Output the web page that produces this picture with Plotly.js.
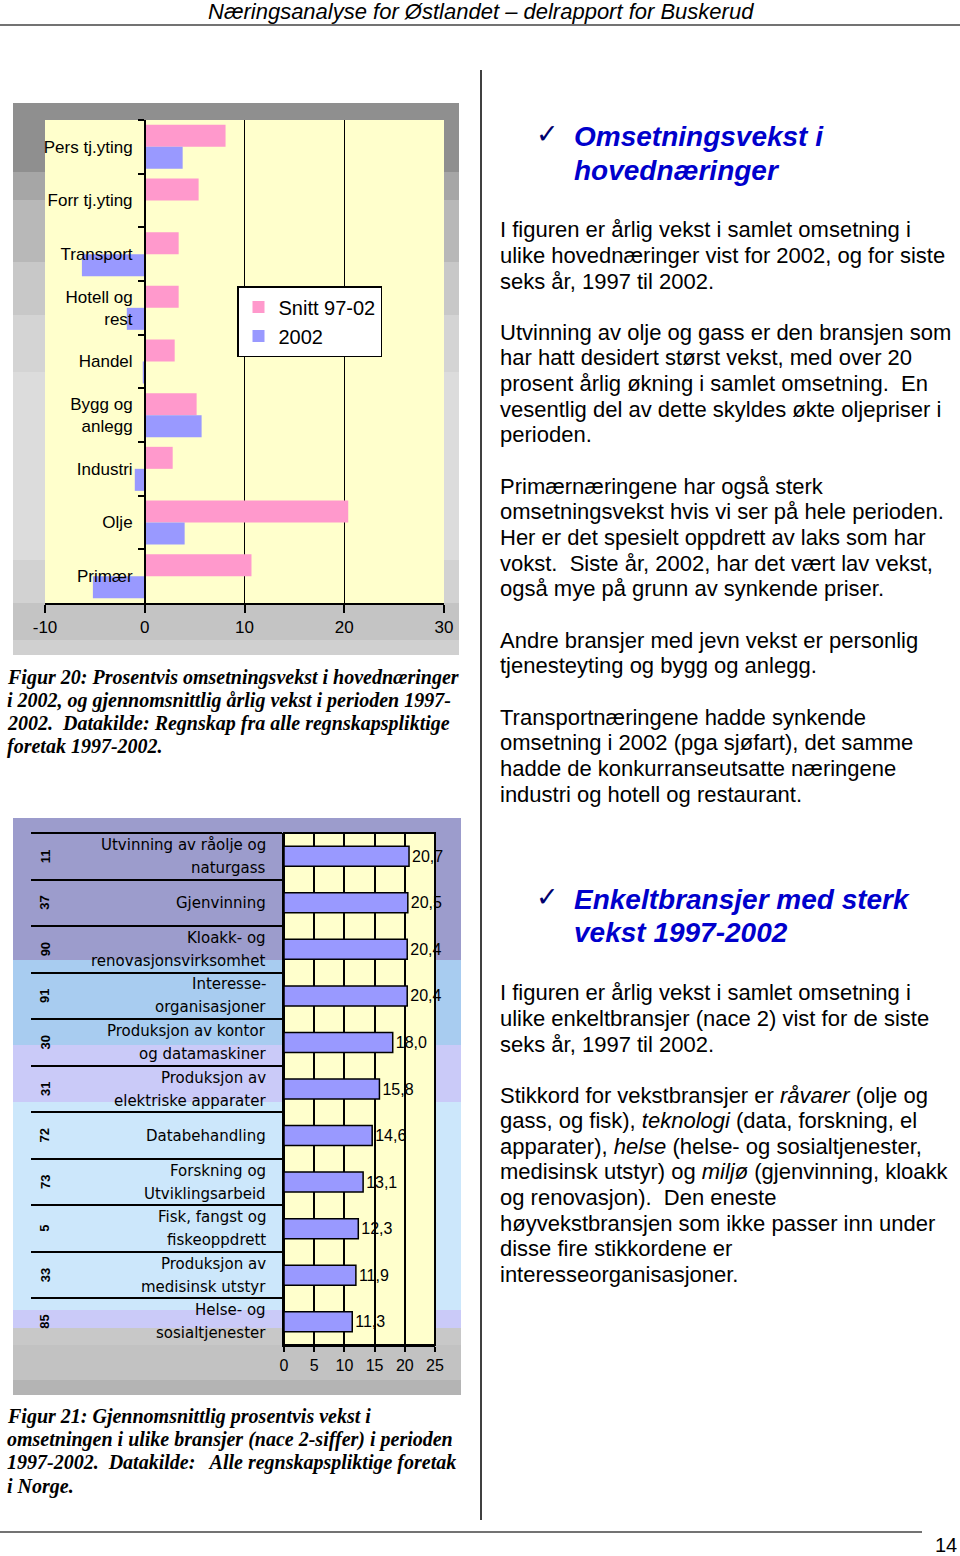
<!DOCTYPE html>
<html>
<head>
<meta charset="utf-8">
<script src="https://cdn.plot.ly/plotly-3.0.1.min.js"></script>
<style>
html,body{margin:0;padding:0;background:#fff;}
#chart{width:960px;height:1556px;}
</style>
</head>
<body>
<div id="chart"></div>
<script>
// ---------- DATA ----------
// Figur 20
const mainCategories = ['Pers tj.yting','Forr tj.yting','Transport','Hotell og<br>rest','Handel','Bygg og<br>anlegg','Industri','Olje','Primær'];
const snitt9702 = [8.1, 5.4, 3.4, 3.4, 3.0, 5.2, 2.8, 20.4, 10.7];
const vekst2002 = [3.8, 0.0, -6.3, -1.8, -0.2, 5.7, -1.0, 4.0, -5.2];
const seriesNames = ['Snitt 97-02', '2002'];
const mainTicks = [-10, 0, 10, 20, 30];
const mainTickText = ['-10', '0', '10', '20', '30'];

// Figur 21
const naceCodes = ['11','37','90','91','30','31','72','73','5','33','85'];
const branchNames = ['Utvinning av råolje og<br>naturgass','Gjenvinning','Kloakk- og<br>renovasjonsvirksomhet','Interesse-<br>organisasjoner','Produksjon av kontor<br>og datamaskiner','Produksjon av<br>elektriske apparater','Databehandling','Forskning og<br>Utviklingsarbeid','Fisk, fangst og<br>fiskeoppdrett','Produksjon av<br>medisinsk utstyr','Helse- og<br>sosialtjenester'];
const branchGrowth = [20.7, 20.5, 20.4, 20.4, 18.0, 15.8, 14.6, 13.1, 12.3, 11.9, 11.3];
const branchTicks = [0, 5, 10, 15, 20, 25];

// ---------- TEXT ----------
const headerText = 'Næringsanalyse for Østlandet – delrapport for Buskerud';
const heading1 = ['Omsetningsvekst i', 'hovednæringer'];
const heading2 = ['Enkeltbransjer med sterk', 'vekst 1997-2002'];
const bodyBlocks1 = [
  ['I figuren er årlig vekst i samlet omsetning i','ulike hovednæringer vist for 2002, og for siste','seks år, 1997 til 2002.'],
  ['Utvinning av olje og gass er den bransjen som','har hatt desidert størst vekst, med over 20','prosent årlig økning i samlet omsetning.  En','vesentlig del av dette skyldes økte oljepriser i','perioden.'],
  ['Primærnæringene har også sterk','omsetningsvekst hvis vi ser på hele perioden.','Her er det spesielt oppdrett av laks som har','vokst.  Siste år, 2002, har det vært lav vekst,','også mye på grunn av synkende priser.'],
  ['Andre bransjer med jevn vekst er personlig','tjenesteyting og bygg og anlegg.'],
  ['Transportnæringene hadde synkende','omsetning i 2002 (pga sjøfart), det samme','hadde de konkurranseutsatte næringene','industri og hotell og restaurant.']
];
const bodyBlocks2 = [
  ['I figuren er årlig vekst i samlet omsetning i','ulike enkeltbransjer (nace 2) vist for de siste','seks år, 1997 til 2002.'],
  ['Stikkord for vekstbransjer er <i>råvarer</i> (olje og','gass, og fisk), <i>teknologi</i> (data, forskning, el','apparater), <i>helse</i> (helse- og sosialtjenester,','medisinsk utstyr) og <i>miljø</i> (gjenvinning, kloakk','og renovasjon).  Den eneste','høyvekstbransjen som ikke passer inn under','disse fire stikkordene er','interesseorganisasjoner.']
];
const caption20 = ['Figur 20: Prosentvis omsetningsvekst i hovednæringer','i 2002, og gjennomsnittlig årlig vekst i perioden 1997-','2002.  Datakilde: Regnskap fra alle regnskapspliktige','foretak 1997-2002.'];
const caption21 = ['Figur 21: Gjennomsnittlig prosentvis vekst i','omsetningen i ulike bransjer (nace 2-siffer) i perioden','1997-2002.  Datakilde:   Alle regnskapspliktige foretak','i Norge.'];
const pageNumber = '14';

// ---------- HELPERS ----------
const W = 960, H = 1556;
const px = x => x / W;
const py = y => 1 - y / H;
const SANS = 'Liberation Sans, Arial, sans-serif';
const SERIF = 'Liberation Serif, Times New Roman, serif';

const annotations = [];
function txt(x, y, text, size, opts) {
  opts = opts || {};
  annotations.push({
    xref: 'paper', yref: 'paper', x: px(x), y: py(y),
    xanchor: opts.xanchor || 'left', yanchor: 'middle',
    text: text, showarrow: false,
    font: {family: opts.family || SANS, size: size, color: opts.color || '#000'}
  });
}
function lines(x, y0, step, arr, size, opts) {
  arr.forEach((t, i) => txt(x, y0 + i * step, t, size, opts));
}

// header / footer
txt(481, 12, '<i>' + headerText + '</i>', 22, {xanchor: 'center'});
txt(933, 1545, pageNumber, 20);

// headings
const headColor = '#0000cc';
txt(534, 133, '✓', 27, {color: '#00006e', family: 'DejaVu Sans, sans-serif'});
lines(572, 137, 33, heading1.map(t => '<b><i>' + t + '</i></b>'), 28, {color: headColor});
txt(534, 896, '✓', 27, {color: '#00006e', family: 'DejaVu Sans, sans-serif'});
lines(572, 899, 33, heading2.map(t => '<b><i>' + t + '</i></b>'), 28, {color: headColor});

// body text
const block1Starts = [230, 332, 486, 640, 717];
bodyBlocks1.forEach((b, i) => lines(498, block1Starts[i], 25.7, b, 22));
const block2Starts = [993, 1095];
bodyBlocks2.forEach((b, i) => lines(498, block2Starts[i], 25.6, b, 22));

// captions
lines(5, 677, 23.2, caption20.map(t => '<b><i>' + t + '</i></b>'), 20, {family: SERIF});
lines(5, 1416, 23.4, caption21.map(t => '<b><i>' + t + '</i></b>'), 20, {family: SERIF});

// bottom chart category labels & codes (placed on the category axis y2)
branchNames.forEach((name, i) => {
  const parts = name.split('<br>');
  parts.forEach((p, j) => {
    const shift = parts.length === 2 ? (j === 0 ? 11.5 : -11.5) : 0;
    annotations.push({
      xref: 'paper', yref: 'y2', x: px(268), y: name, yshift: shift,
      xanchor: 'right', yanchor: 'middle', text: p, showarrow: false,
      font: {family: 'DejaVu Sans, sans-serif', size: 15, color: '#000'}
    });
  });
  annotations.push({
    xref: 'paper', yref: 'y2', x: px(45), y: name,
    xanchor: 'center', yanchor: 'middle', text: '<b>' + naceCodes[i] + '</b>',
    textangle: -90, showarrow: false,
    font: {family: SANS, size: 13, color: '#000'}
  });
});

// ---------- SHAPES (frames / backgrounds) ----------
const shapes = [];
function rect(x0, y0, x1, y1, fill, line) {
  shapes.push({type: 'rect', xref: 'paper', yref: 'paper', layer: 'below',
    x0: px(x0), x1: px(x1), y0: py(y1), y1: py(y0),
    fillcolor: fill, line: line || {width: 0}});
}
function hline(x0, x1, y, color, w) {
  shapes.push({type: 'line', xref: 'paper', yref: 'paper', x0: px(x0), x1: px(x1), y0: py(y), y1: py(y), line: {color: color, width: w}});
}
function vline(x, y0, y1, color, w) {
  shapes.push({type: 'line', xref: 'paper', yref: 'paper', x0: px(x), x1: px(x), y0: py(y0), y1: py(y1), line: {color: color, width: w}});
}
// top frame bands
[[103,172,'#8f8f8f'],[172,200,'#a6a6a6'],[200,262,'#b8b8b8'],[262,315,'#c8c8c8'],[315,372,'#d4d4d4'],[372,560,'#dcdcdc'],[560,603,'#d2d2d2'],[603,640,'#c4c4c4'],[640,655,'#d0d0d0']]
  .forEach(b => rect(13, b[0], 459, b[1], b[2]));
rect(45, 120, 444, 603, '#ffffcc');
// bottom frame bands
[[818,960,'#9c9ccc'],[960,1045,'#a8ccf0'],[1045,1102,'#cacaf8'],[1102,1310,'#cce7fb'],[1310,1328,'#cacaf8'],[1328,1345,'#c8c8c8'],[1345,1380,'#c2c2c2'],[1380,1395,'#b4b4b4']]
  .forEach(b => rect(13, b[0], 461, b[1], b[2]));
rect(284, 833, 435, 1345, '#ffffcc', {color: '#000', width: 2});
// page rules
hline(0, 960, 25, '#444', 1.5);
hline(0, 922, 1532, '#444', 1.5);
vline(481, 70, 1520, '#000', 1.5);

// ---------- TRACES ----------
const traces = [
  {type: 'bar', orientation: 'h', name: seriesNames[0], x: snitt9702, y: mainCategories,
   xaxis: 'x', yaxis: 'y', marker: {color: '#ff99cc'}, hoverinfo: 'skip'},
  {type: 'bar', orientation: 'h', name: seriesNames[1], x: vekst2002, y: mainCategories,
   xaxis: 'x', yaxis: 'y', marker: {color: '#9999ff'}, hoverinfo: 'skip'},
  {type: 'bar', orientation: 'h', x: branchGrowth, y: branchNames, xaxis: 'x2', yaxis: 'y2',
   width: 0.43, showlegend: false, hoverinfo: 'skip',
   marker: {color: '#9999ff', line: {color: '#000', width: 1.5}},
   text: branchGrowth.map(v => v.toFixed(1).replace('.', ',')),
   textposition: 'outside', constraintext: 'none', cliponaxis: false,
   textfont: {family: SANS, size: 16, color: '#000'}}
];

const layout = {
  width: W, height: H, autosize: false,
  margin: {l: 0, r: 0, t: 0, b: 0, pad: 0},
  paper_bgcolor: '#ffffff', plot_bgcolor: 'rgba(0,0,0,0)',
  barmode: 'group', bargap: 0.18, bargroupgap: 0,
  showlegend: true,
  legend: {x: px(237), y: py(286), xanchor: 'left', yanchor: 'top',
    bgcolor: '#ffffff', bordercolor: '#000', borderwidth: 1.5,
    font: {family: SANS, size: 20, color: '#000'}, traceorder: 'normal',
    itemclick: false, itemdoubleclick: false},
  xaxis: {domain: [px(45), px(444)], range: [-10, 30], anchor: 'y', fixedrange: true,
    tickmode: 'array', tickvals: mainTicks, ticktext: mainTickText, ticks: 'outside', ticklen: 8, tickwidth: 2, tickcolor: '#000',
    showgrid: true, gridcolor: '#000', gridwidth: 1.5,
    zeroline: true, zerolinecolor: '#000', zerolinewidth: 2,
    showline: true, linecolor: '#000', linewidth: 2,
    tickfont: {family: SANS, size: 17, color: '#000'}},
  yaxis: {domain: [py(603), py(120)], anchor: 'free', position: px(145), autorange: 'reversed',
    type: 'category', fixedrange: true,
    showline: true, linecolor: '#000', linewidth: 2,
    ticks: 'outside', tickson: 'boundaries', ticklen: 6, tickwidth: 2, tickcolor: '#000',
    ticklabelstandoff: 8,
    showgrid: false, zeroline: false,
    tickfont: {family: SANS, size: 17, color: '#000'}},
  xaxis2: {domain: [px(284), px(435)], range: [0, 25], anchor: 'y2', fixedrange: true,
    tickmode: 'array', tickvals: branchTicks, ticks: 'outside', ticklen: 5, tickwidth: 2, tickcolor: '#000',
    showgrid: true, gridcolor: '#000', gridwidth: 2, zeroline: false,
    showline: true, linecolor: '#000', linewidth: 2,
    tickfont: {family: SANS, size: 16, color: '#000'}},
  yaxis2: {domain: [py(1345), py(833)], anchor: 'x2', autorange: 'reversed', type: 'category',
    fixedrange: true, showticklabels: false,
    showline: true, linecolor: '#000', linewidth: 2,
    ticks: 'outside', tickson: 'boundaries', ticklen: 251, tickwidth: 2, tickcolor: '#000',
    showgrid: false, zeroline: false},
  shapes: shapes,
  annotations: annotations
};

Plotly.newPlot('chart', traces, layout, {displayModeBar: false, staticPlot: true});
</script>
</body>
</html>
